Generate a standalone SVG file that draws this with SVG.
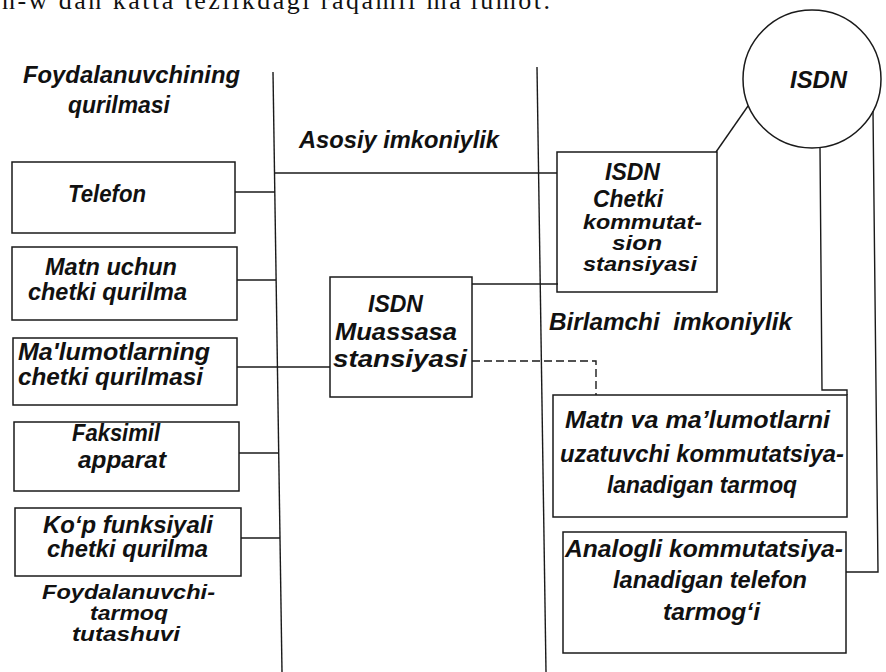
<svg xmlns="http://www.w3.org/2000/svg" width="886" height="672" viewBox="0 0 886 672">
  <style>
    .bg { fill: #ffffff; }
    .box { fill: none; stroke: #1a1a1a; stroke-width: 1.5; }
    .ln { fill: none; stroke: #1a1a1a; stroke-width: 1.4; }
    .dash { fill: none; stroke: #1a1a1a; stroke-width: 1.4; stroke-dasharray: 8 4; }
    .t { font-family: "Liberation Sans", Arial, sans-serif; font-size: 23px; font-weight: bold; font-style: italic; fill: #111111; }
    .s { font-size: 20px; }
    .page { font-family: "Liberation Serif", "Times New Roman", serif; font-size: 26px; fill: #111111; }
  </style>
  <rect class="bg" x="0" y="0" width="886" height="672"/>

  <!-- running text of the page, cut at the top edge -->
  <text class="page" x="2" y="9" textLength="548" lengthAdjust="spacing">n-w dan katta tezlikdagi raqamli ma'lumot.</text>

  <!-- boundary lines between the zones -->
  <g id="boundaries">
    <line class="ln" x1="273" y1="72" x2="282" y2="672"/>
    <line class="ln" x1="537" y1="67" x2="546" y2="672"/>
  </g>

  <!-- zone captions -->
  <g id="captions">
    <text class="t" x="23" y="83" textLength="217" lengthAdjust="spacingAndGlyphs">Foydalanuvchining</text>
    <text class="t" x="68" y="113" textLength="102" lengthAdjust="spacingAndGlyphs">qurilmasi</text>
    <text class="t" x="299" y="148" textLength="200" lengthAdjust="spacingAndGlyphs">Asosiy imkoniylik</text>
    <text class="t" x="549" y="330" textLength="243" lengthAdjust="spacingAndGlyphs" xml:space="preserve">Birlamchi  imkoniylik</text>
    <text class="t s" x="42" y="599" textLength="173" lengthAdjust="spacingAndGlyphs">Foydalanuvchi-</text>
    <text class="t s" x="90" y="620" textLength="78" lengthAdjust="spacingAndGlyphs">tarmoq</text>
    <text class="t s" x="72" y="641" textLength="108" lengthAdjust="spacingAndGlyphs">tutashuvi</text>
  </g>

  <!-- connectors -->
  <g id="connectors">
    <line class="ln" x1="235" y1="192" x2="275" y2="192"/>
    <line class="ln" x1="237" y1="280" x2="276" y2="280"/>
    <line class="ln" x1="237" y1="367" x2="330" y2="367"/>
    <line class="ln" x1="239" y1="453" x2="279" y2="453"/>
    <line class="ln" x1="241" y1="538" x2="280" y2="538"/>
    <line class="ln" x1="275" y1="173" x2="557" y2="173"/>
    <line class="ln" x1="472" y1="284" x2="558" y2="284"/>
    <polyline class="dash" points="472,361 596,361 596,395"/>
    <line class="ln" x1="716" y1="152" x2="748" y2="106"/>
    <polyline class="ln" points="820,147.5 822,390 847,390 847,395"/>
    <polyline class="ln" points="873,111 878,572 846,572"/>
  </g>

  <!-- user equipment -->
  <g id="telefon">
    <rect class="box" x="12" y="162" width="223" height="71"/>
    <text class="t" x="68" y="202" textLength="78" lengthAdjust="spacingAndGlyphs">Telefon</text>
  </g>
  <g id="matn-qurilma">
    <rect class="box" x="12" y="247" width="225" height="73"/>
    <text class="t" x="45" y="275" textLength="132" lengthAdjust="spacingAndGlyphs">Matn uchun</text>
    <text class="t" x="28" y="300" textLength="159" lengthAdjust="spacingAndGlyphs">chetki qurilma</text>
  </g>
  <g id="malumot-qurilma">
    <rect class="box" x="13" y="338" width="224" height="67"/>
    <text class="t" x="18" y="360" textLength="192" lengthAdjust="spacingAndGlyphs">Ma'lumotlarning</text>
    <text class="t" x="18" y="385" textLength="185" lengthAdjust="spacingAndGlyphs">chetki qurilmasi</text>
  </g>
  <g id="faksimil">
    <rect class="box" x="14" y="422" width="225" height="69"/>
    <text class="t" x="72" y="441" textLength="88" lengthAdjust="spacingAndGlyphs">Faksimil</text>
    <text class="t" x="78" y="468" textLength="88" lengthAdjust="spacingAndGlyphs">apparat</text>
  </g>
  <g id="kop-funksiyali">
    <rect class="box" x="15" y="508" width="226" height="68"/>
    <text class="t" x="43" y="533" textLength="170" lengthAdjust="spacingAndGlyphs">Ko‘p funksiyali</text>
    <text class="t" x="47" y="557" textLength="161" lengthAdjust="spacingAndGlyphs">chetki qurilma</text>
  </g>

  <!-- private branch exchange -->
  <g id="muassasa-stansiyasi">
    <rect class="box" x="330" y="277" width="142" height="120"/>
    <text class="t" x="368" y="312" textLength="55" lengthAdjust="spacingAndGlyphs">ISDN</text>
    <text class="t" x="335" y="340" textLength="122" lengthAdjust="spacingAndGlyphs">Muassasa</text>
    <text class="t" x="333" y="367" textLength="134" lengthAdjust="spacingAndGlyphs">stansiyasi</text>
  </g>

  <!-- local exchange -->
  <g id="chetki-stansiya">
    <rect class="box" x="557" y="152" width="160" height="140"/>
    <text class="t" x="605" y="180" textLength="55" lengthAdjust="spacingAndGlyphs">ISDN</text>
    <text class="t" x="593" y="207" textLength="70" lengthAdjust="spacingAndGlyphs">Chetki</text>
    <text class="t s" x="583" y="229" textLength="119" lengthAdjust="spacingAndGlyphs">kommutat-</text>
    <text class="t s" x="612" y="250" textLength="50" lengthAdjust="spacingAndGlyphs">sion</text>
    <text class="t s" x="583" y="271" textLength="114" lengthAdjust="spacingAndGlyphs">stansiyasi</text>
  </g>

  <!-- ISDN network -->
  <g id="isdn">
    <circle class="box" cx="812" cy="79" r="69"/>
    <text class="t" x="790" y="88" textLength="57" lengthAdjust="spacingAndGlyphs">ISDN</text>
  </g>

  <!-- other networks -->
  <g id="malumot-tarmoq">
    <rect class="box" x="553" y="395" width="294" height="122"/>
    <text class="t" x="565" y="428" textLength="265" lengthAdjust="spacingAndGlyphs">Matn va ma’lumotlarni</text>
    <text class="t" x="560" y="462" textLength="284" lengthAdjust="spacingAndGlyphs">uzatuvchi kommutatsiya-</text>
    <text class="t" x="607" y="493" textLength="190" lengthAdjust="spacingAndGlyphs">lanadigan tarmoq</text>
  </g>
  <g id="analog-tarmoq">
    <rect class="box" x="563" y="532" width="283" height="121"/>
    <text class="t" x="565" y="557" textLength="278" lengthAdjust="spacingAndGlyphs">Analogli kommutatsiya-</text>
    <text class="t" x="613" y="588" textLength="194" lengthAdjust="spacingAndGlyphs">lanadigan telefon</text>
    <text class="t" x="663" y="620" textLength="97" lengthAdjust="spacingAndGlyphs">tarmog‘i</text>
  </g>
</svg>
